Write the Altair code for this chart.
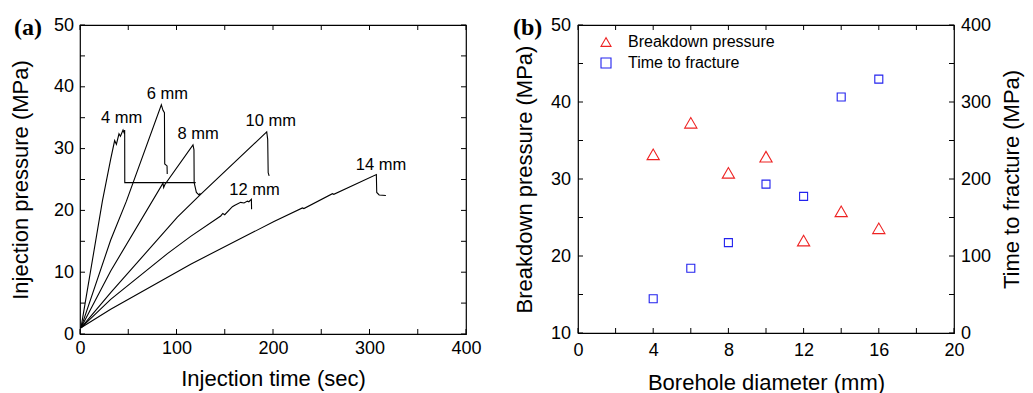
import altair as alt
import pandas as pd

FONT = "Liberation Sans"

# ---------------- Panel (a): injection pressure curves ----------------
t4 = [1, 23.2, 31.8, 35.9, 37.7, 40.4, 41.9, 44.6, 45.6, 46.3, 46.4, 119.9]
p4 = [1, 21.5, 28.3, 31.3, 30.7, 32.4, 32.0, 33.0, 32.6, 33.0, 24.5, 24.5]
t6 = [1, 31.8, 48.1, 84.3, 86.0, 87.5, 87.8, 90.2, 90.4]
p6 = [1, 15.2, 21.5, 37.1, 36.2, 35.8, 27.5, 27.2, 25.9]
t8 = [1, 31.8, 86.0, 86.7, 88.0, 117.1, 118.1, 118.3, 120.6, 123.3, 124.7]
p8 = [1, 10.2, 24.4, 23.7, 24.2, 30.6, 29.8, 24.5, 22.9, 22.5, 22.8]
t10 = [1, 31.8, 100.9, 125.0, 193.5, 194.5, 195.0, 196.0]
p10 = [1, 6.7, 18.9, 22.6, 32.7, 31.5, 26.1, 25.6]
t12 = [1, 31.8, 90.6, 114.7, 145.8, 148.0, 150.0, 157.9, 160.0, 166.5, 170.0, 173.5, 175.0, 177.6, 177.8]
p12 = [1, 5.6, 13.0, 15.8, 19.1, 19.5, 19.3, 20.6, 20.8, 21.3, 21.2, 21.5, 21.4, 21.8, 20.2]
t14 = [1, 31.8, 114.7, 201.0, 230.5, 232.0, 261.6, 263.0, 307.1, 307.5, 310.0, 317.0]
p14 = [1, 4.0, 11.3, 18.2, 20.4, 20.3, 22.7, 22.6, 25.8, 22.9, 22.5, 22.4]

curve_names = ["4 mm", "6 mm", "8 mm", "10 mm", "12 mm", "14 mm"]
curve_t = [t4, t6, t8, t10, t12, t14]
curve_p = [p4, p6, p8, p10, p12, p14]

label_text = ["4 mm", "6 mm", "8 mm", "10 mm", "12 mm", "14 mm"]
label_x = [43.2, 90.6, 122.5, 197.6, 180.8, 312.0]
label_y = [35.0, 38.9, 32.3, 34.5, 23.3, 27.4]

# ---------------- Panel (b): breakdown pressure and time ----------------
diameter = [4, 6, 8, 10, 12, 14, 16]
breakdown = [33.2, 37.3, 30.8, 32.9, 22.0, 25.8, 23.6]
time_to_fracture = [44.5, 84.1, 117.4, 193.4, 177.4, 306.4, 329.7]
series_names = ["Breakdown pressure", "Time to fracture"]

# tick values (major + minor)
a_x_ticks = list(range(0, 401, 50))
a_y_ticks = list(range(0, 51, 5))
b_x_ticks = list(range(0, 21, 2))
b_yl_ticks = list(range(10, 51, 5))
b_yr_ticks = list(range(0, 401, 50))

A_W, A_H = 386, 309
B_W, B_H = 376, 308
TICK = 5

rows = []
for name, ts, ps in zip(curve_names, curve_t, curve_p):
    for i, (t, p) in enumerate(zip(ts, ps)):
        rows.append({"d": name, "i": i, "t": t, "p": p})
df_a = pd.DataFrame(rows)
df_lab = pd.DataFrame({"label": label_text, "x": label_x, "y": label_y})
df_bp = pd.DataFrame({"d": diameter, "v": breakdown, "s": series_names[0]})
df_tf = pd.DataFrame({"d": diameter, "v": time_to_fracture, "s": series_names[1]})


def lab_axis(orient, values, every, title, label_pad, title_pad,
             title_angle=None, title_baseline=None):
    kw = dict(orient=orient, values=values, ticks=False, domain=False, grid=False,
              labelExpr=f"datum.value % {every} === 0 ? datum.label : ''",
              labelPadding=label_pad, labelFont=FONT, labelFontSize=18,
              labelColor="black", labelFlush=False, labelOverlap=False,
              labelBound=False, title=title, titleFont=FONT, titleFontSize=22,
              titleFontWeight="normal", titleColor="black", titlePadding=title_pad)
    if title_angle is not None:
        kw["titleAngle"] = title_angle
    if title_baseline is not None:
        kw["titleBaseline"] = title_baseline
    return alt.Axis(**kw)


rule = dict(color="black", strokeWidth=1)

# ---------------- panel (a) ----------------
xs_a = alt.Scale(domain=[0, 400], nice=False)
ys_a = alt.Scale(domain=[0, 50], nice=False)

lines = alt.Chart(df_a).mark_line(color="black", strokeWidth=1.1).encode(
    x=alt.X("t:Q", scale=xs_a,
            axis=lab_axis("bottom", a_x_ticks, 100, "Injection time (sec)", 5.5, 11)),
    y=alt.Y("p:Q", scale=ys_a,
            axis=lab_axis("left", a_y_ticks, 10, "Injection pressure (MPa)", 6.5, 21)),
    detail="d:N",
    order="i:Q",
)
texts = alt.Chart(df_lab).mark_text(font=FONT, fontSize=16.5, color="black",
                                    align="center", baseline="middle").encode(
    x=alt.X("x:Q", scale=xs_a, axis=None),
    y=alt.Y("y:Q", scale=ys_a, axis=None),
    text="label:N",
)
tag_a = alt.Chart(pd.DataFrame({"l": ["(a)"]})).mark_text(
    font="Liberation Serif", fontWeight="bold", fontSize=24, align="left",
    baseline="middle", color="black").encode(
    text="l:N", x=alt.value(-66), y=alt.value(3))

dxa = pd.DataFrame({"v": a_x_ticks})
dya = pd.DataFrame({"v": a_y_ticks})
a_bottom = alt.Chart(dxa).mark_rule(**rule).encode(
    x=alt.X("v:Q", scale=xs_a, axis=None), y=alt.value(A_H), y2=alt.value(A_H - TICK))
a_top = alt.Chart(dxa).mark_rule(**rule).encode(
    x=alt.X("v:Q", scale=xs_a, axis=None), y=alt.value(0), y2=alt.value(TICK))
a_left = alt.Chart(dya).mark_rule(**rule).encode(
    y=alt.Y("v:Q", scale=ys_a, axis=None), x=alt.value(0), x2=alt.value(TICK))
a_right = alt.Chart(dya).mark_rule(**rule).encode(
    y=alt.Y("v:Q", scale=ys_a, axis=None), x=alt.value(A_W - TICK), x2=alt.value(A_W))

panel_a = alt.layer(lines, texts, a_bottom, a_top, a_left, a_right, tag_a).resolve_axis(
    x="independent", y="independent").properties(width=A_W, height=A_H)

# ---------------- panel (b) ----------------
xs_b = alt.Scale(domain=[0, 20], nice=False)
ysl_b = alt.Scale(domain=[10, 50], nice=False, zero=False)
ysr_b = alt.Scale(domain=[0, 400], nice=False)

legend = alt.Legend(title=None, orient="none", legendX=20, legendY=9,
                    labelFont=FONT, labelFontSize=16, labelColor="black",
                    symbolSize=100, symbolStrokeWidth=1.1, labelOffset=14,
                    rowPadding=5)
color = alt.Color("s:N", scale=alt.Scale(domain=series_names, range=["#ee2222", "#2222ee"]),
                  legend=legend)
shape = alt.Shape("s:N", scale=alt.Scale(domain=series_names, range=["triangle-up", "square"]),
                  legend=legend)

tri = alt.Chart(df_bp).mark_point(filled=False, size=150, strokeWidth=1.1, opacity=1).encode(
    x=alt.X("d:Q", scale=xs_b,
            axis=lab_axis("bottom", b_x_ticks, 4, "Borehole diameter (mm)", 8.5, 13)),
    y=alt.Y("v:Q", scale=ysl_b,
            axis=lab_axis("left", b_yl_ticks, 10, "Breakdown pressure (MPa)", 7.5, 14)),
    color=color, shape=shape,
)
sq = alt.Chart(df_tf).mark_point(filled=False, size=64, strokeWidth=1.1, opacity=1).encode(
    x=alt.X("d:Q", scale=xs_b, axis=None),
    y=alt.Y("v:Q", scale=ysr_b,
            axis=lab_axis("right", b_yr_ticks, 100, "Time to fracture (MPa)", 6.5, 11,
                          title_angle=270, title_baseline="top")),
    color=color, shape=shape,
)
tag_b = alt.Chart(pd.DataFrame({"l": ["(b)"]})).mark_text(
    font="Liberation Serif", fontWeight="bold", fontSize=24, align="left",
    baseline="middle", color="black").encode(
    text="l:N", x=alt.value(-65), y=alt.value(3))

dxb = pd.DataFrame({"v": b_x_ticks})
dylb = pd.DataFrame({"v": b_yl_ticks})
dyrb = pd.DataFrame({"v": b_yr_ticks})
b_bottom = alt.Chart(dxb).mark_rule(**rule).encode(
    x=alt.X("v:Q", scale=xs_b, axis=None), y=alt.value(B_H), y2=alt.value(B_H - TICK))
b_top = alt.Chart(dxb).mark_rule(**rule).encode(
    x=alt.X("v:Q", scale=xs_b, axis=None), y=alt.value(0), y2=alt.value(TICK))
b_left = alt.Chart(dylb).mark_rule(**rule).encode(
    y=alt.Y("v:Q", scale=ysl_b, axis=None), x=alt.value(0), x2=alt.value(TICK))
b_right = alt.Chart(dyrb).mark_rule(**rule).encode(
    y=alt.Y("v:Q", scale=ysr_b, axis=None), x=alt.value(B_W - TICK), x2=alt.value(B_W))

panel_b = alt.layer(tri, sq, b_bottom, b_top, b_left, b_right, tag_b).resolve_scale(
    y="independent").resolve_axis(x="independent", y="independent").properties(
    width=B_W, height=B_H)

chart = alt.hconcat(panel_a, panel_b, spacing=112, bounds="flush").resolve_legend(
    color="independent", shape="independent").properties(
    padding={"left": 8, "top": 15, "right": 5, "bottom": 3},
    background="white",
).configure_view(stroke="black", strokeWidth=1.2)

chart.save("out.html", embed_options={"renderer": "svg", "actions": False})
